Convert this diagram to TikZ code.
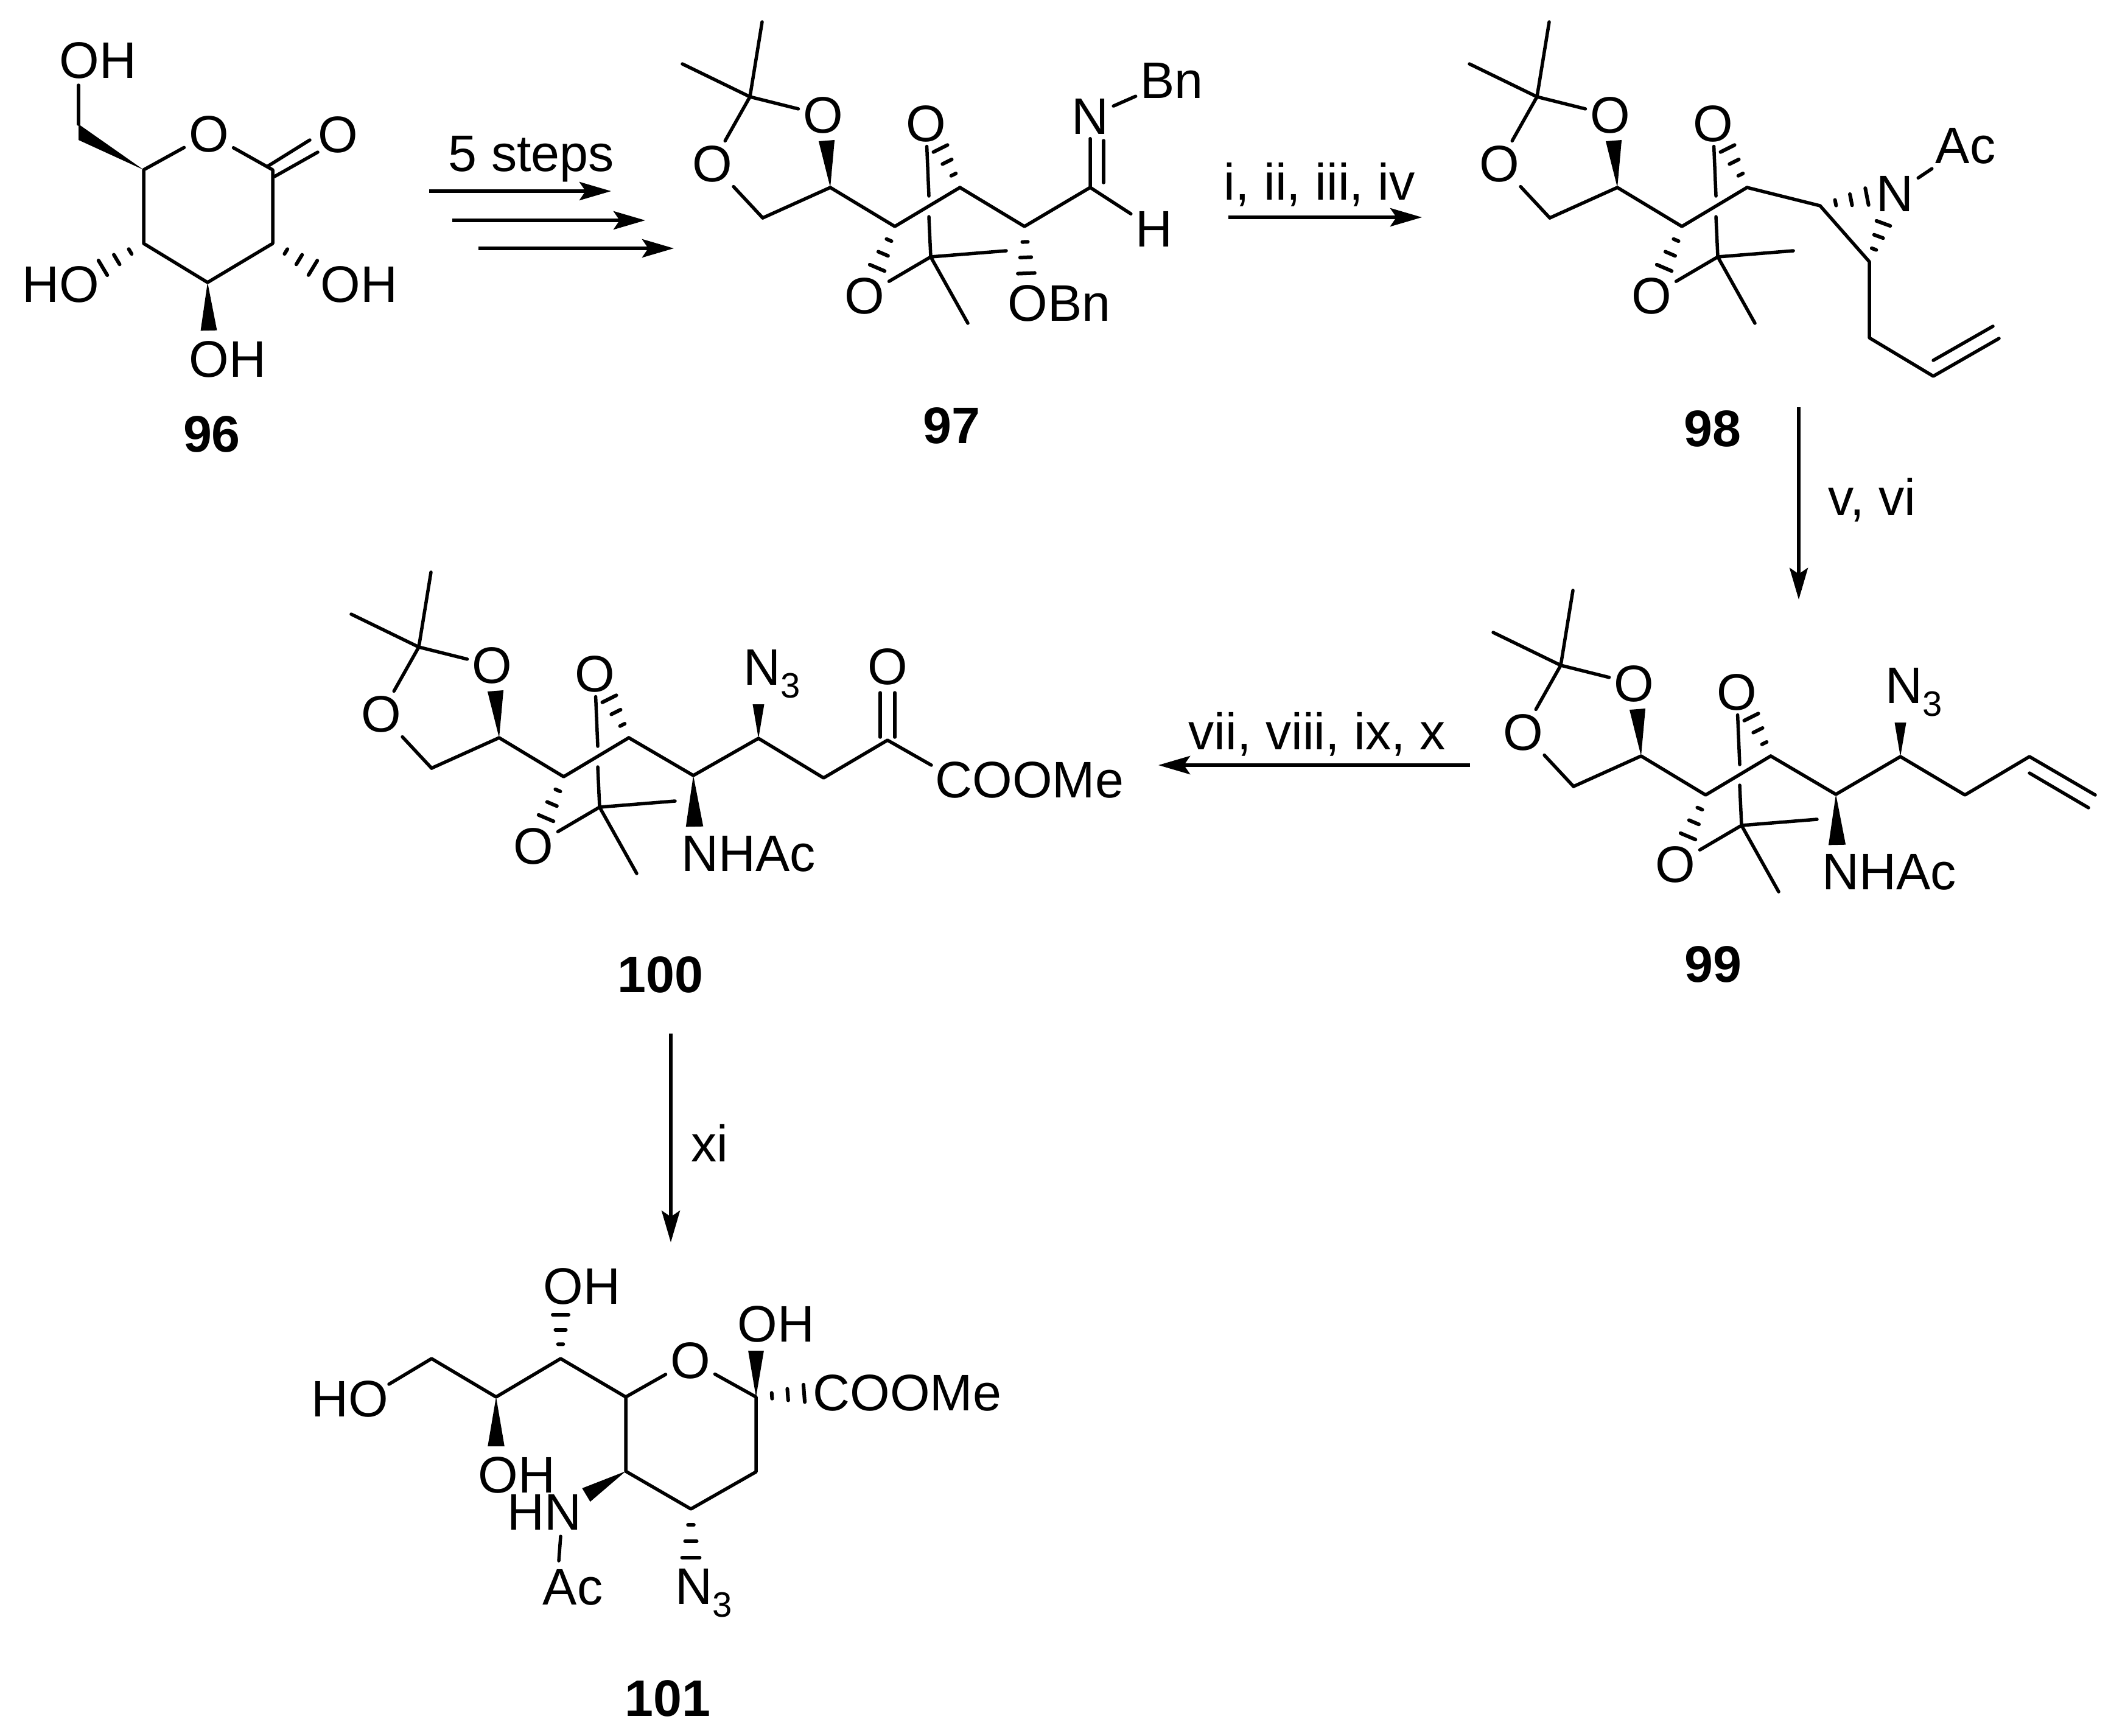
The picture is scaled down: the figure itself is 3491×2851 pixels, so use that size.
\documentclass[tikz,border=0pt]{standalone}
\usepackage{fontspec}
\setmainfont{Liberation Sans}
\usetikzlibrary{calc,arrows.meta}

\newcommand{\chemsub}[1]{\raisebox{-0.26em}{\fontsize{16.5}{17}\selectfont #1}}
\newcommand{\hashbond}[2]{\foreach \hs in {0.33,0.66,1} {\draw[hashline] ($(#1)!\hs!(#2)!0.18!90:(#1)$) -- ($(#1)!\hs!(#2)!0.18!-90:(#1)$);}}
\newcommand{\wedgebond}[2]{\fill ($(#2)!0.17!90:(#1)$) -- (#1) -- ($(#2)!0.17!-90:(#1)$) -- cycle;}

% The two ketals and the carbons between them, drawn where they stand in 97
\newcommand{\twoketals}[2]{%
  \begin{scope}[shift={(#1)}, name prefix=#2]
    % Nodes for the atoms
    \node[atom] (Oa) at (1352,189) {O};
    \node[atom] (Ob) at (1170,269) {O};
    \node[atom] (Oc) at (1521,203) {O};
    \node[atom] (Od) at (1420,486) {O};
    \coordinate (Me1) at (1252,36);
    \coordinate (Me2) at (1121,105);
    \coordinate (Cq1) at (1232,159);
    \coordinate (CH) at (1253,358);
    \coordinate (C4) at (1364,308);
    \coordinate (C5) at (1470,372);
    \coordinate (C6) at (1577,308);
    \coordinate (Cq2) at (1529,422);
    \coordinate (Me3) at (1653,412);
    \coordinate (Me4) at (1590,531);
    \coordinate (Wa) at (1358,231);
    \coordinate (Ha) at (1545,244);
    \coordinate (Hb) at (1441,440);
    \coordinate (Ga) at (1526,322);
    \coordinate (Gb) at (1526,356);
    % Bonds
    \draw[bond] (Me1) -- (Cq1) -- (Me2);
    \draw[bond] (Cq1) -- (Oa);
    \draw[bond] (Cq1) -- (Ob);
    \draw[bond] (Ob) -- (CH);
    \draw[bond] (CH) -- (C4) -- (C5) -- (C6);
    \draw[bond] (Oc) -- (Ga);
    \draw[bond] (Gb) -- (Cq2);
    \draw[bond] (Me3) -- (Cq2) -- (Me4);
    \draw[bond] (Cq2) -- (Od);
    \wedgebond{C4}{Wa}
    \hashbond{C6}{Ha}
    \hashbond{C5}{Hb}
  \end{scope}}

\begin{document}
\begin{tikzpicture}[x=0.01cm, y=-0.01cm,
  chem/.style={font=\fontsize{24}{28}\selectfont},
  atom/.style={chem, inner sep=0.07cm},
  lab/.style={chem, anchor=base west, inner sep=0pt},
  cpd/.style={font=\fontsize{24}{28}\selectfont\bfseries, inner sep=0pt},
  bond/.style={line width=0.055cm, line cap=round, line join=round},
  hashline/.style={line width=0.06cm, line cap=round},
  rxn/.style={line width=0.055cm, -{Stealth[length=0.52cm, width=0.3cm, inset=0.1cm]}}]
  \useasboundingbox (0,0) rectangle (3491,2851);

  % Compound 96
  \node[atom] (aO1) at (343,220) {O};
  \node[atom] (aO2) at (555,221) {O};
  \node[lab] (aOH1) at (97,128) {OH};
  \node[lab] (aOH2) at (36,496) {HO};
  \node[lab] (aOH3) at (526,496) {OH};
  \node[lab] (aOH4) at (310,619) {OH};
  \coordinate (aC1) at (448,279);
  \coordinate (aC2) at (448,400);
  \coordinate (aC3) at (341,464);
  \coordinate (aC4) at (236,400);
  \coordinate (aC5) at (236,279);
  \coordinate (aC6) at (129,204);
  \coordinate (aC7) at (129,230);
  \coordinate (aE1) at (129,140);
  \coordinate (aE2) at (343,543);
  \coordinate (aE3) at (514,440);
  \coordinate (aE4) at (169,440);
  \coordinate (aD1) at (440,273);
  \coordinate (aD2) at (509,230);
  \coordinate (aD3) at (451,290);
  \coordinate (aD4) at (522,250);
  \draw[bond] (aO1) -- (aC5) -- (aC4) -- (aC3) -- (aC2) -- (aC1) -- (aO1);
  \draw[bond] (aD1) -- (aD2);
  \draw[bond] (aD3) -- (aD4);
  \draw[bond] (aC6) -- (aE1);
  \fill (aC5) -- (aC6) -- (aC7) -- cycle;
  \wedgebond{aC3}{aE2}
  \hashbond{aC2}{aE3}
  \hashbond{aC4}{aE4}
  \node[cpd] (a) at (348,713) {96};

  % Compound 97
  \twoketals{0,0}{k97-}
  \node[atom] (bN) at (1791,191) {N};
  \node[atom] (bBn) at (1925,132) {Bn};
  \node[atom] (bH) at (1896,376) {H};
  \node[lab] (bOBn) at (1655,527) {OBn};
  \coordinate (bC7) at (1683,372);
  \coordinate (bC8) at (1791,308);
  \coordinate (bE1) at (1686,449);
  \coordinate (bD1) at (1813,231);
  \coordinate (bD2) at (1813,300);
  \draw[bond] (k97-C6) -- (bC7) -- (bC8) -- (bH);
  \draw[bond] (bC8) -- (bN) -- (bBn);
  \draw[bond] (bD1) -- (bD2);
  \hashbond{bC7}{bE1}
  \node[cpd] (b) at (1563,699) {97};

  % Compound 98
  \twoketals{1293,0}{k98-}
  \node[atom] (cN) at (3113,318) {N};
  \node[atom] (cAc) at (3229,240) {Ac};
  \coordinate (cC7) at (2990,338);
  \coordinate (cC8) at (3071,430);
  \coordinate (cC9) at (3071,555);
  \coordinate (cC10) at (3176,618);
  \coordinate (cC11) at (3284,556);
  \coordinate (cD1) at (3176,592);
  \coordinate (cD2) at (3274,536);
  \coordinate (cE1) at (3067,323);
  \coordinate (cE2) at (3094,367);
  \draw[bond] (k98-C6) -- (cC7) -- (cC8) -- (cC9) -- (cC10) -- (cC11);
  \draw[bond] (cD1) -- (cD2);
  \draw[bond] (cN) -- (cAc);
  \hashbond{cC7}{cE1}
  \hashbond{cC8}{cE2}
  \node[cpd] (c) at (2813,704) {98};

  % Compound 99
  \twoketals{1332,934}{k99-}
  \node[lab] (dN3) at (3097,1155) {N\chemsub{3}};
  \node[lab] (dNH) at (2993,1461) {NHAc};
  \coordinate (dC7) at (3016,1305);
  \coordinate (dC8) at (3122,1243);
  \coordinate (dC9) at (3228,1306);
  \coordinate (dC10) at (3334,1243);
  \coordinate (dC11) at (3442,1306);
  \coordinate (dD1) at (3334,1270);
  \coordinate (dD2) at (3431,1327);
  \coordinate (dE1) at (3122,1187);
  \coordinate (dE2) at (3018,1388);
  \draw[bond] (k99-C6) -- (dC7) -- (dC8) -- (dC9) -- (dC10) -- (dC11);
  \draw[bond] (dD1) -- (dD2);
  \wedgebond{dC8}{dE1}
  \wedgebond{dC7}{dE2}
  \node[cpd] (d) at (2814,1584) {99};

  % Compound 100
  \twoketals{-544,904}{k100-}
  \node[atom] (eO) at (1458,1095) {O};
  \node[lab] (eN3) at (1221,1125) {N\chemsub{3}};
  \node[lab] (eNH) at (1119,1431) {NHAc};
  \node[lab] (eCO) at (1536,1310) {COOMe};
  \coordinate (eC7) at (1139,1274);
  \coordinate (eC8) at (1246,1213);
  \coordinate (eC9) at (1353,1278);
  \coordinate (eC10) at (1458,1216);
  \coordinate (eF1) at (1530,1257);
  \coordinate (eD1) at (1446,1138);
  \coordinate (eD2) at (1446,1211);
  \coordinate (eD3) at (1470,1138);
  \coordinate (eD4) at (1470,1211);
  \coordinate (eE1) at (1246,1157);
  \coordinate (eE2) at (1141,1358);
  \draw[bond] (k100-C6) -- (eC7) -- (eC8) -- (eC9) -- (eC10) -- (eF1);
  \draw[bond] (eD1) -- (eD2);
  \draw[bond] (eD3) -- (eD4);
  \wedgebond{eC8}{eE1}
  \wedgebond{eC7}{eE2}
  \node[cpd] (e) at (1085,1601) {100};

  % Compound 101
  \node[atom] (fO) at (1134,2235) {O};
  \node[lab] (fHO) at (511,2327) {HO};
  \node[lab] (fOH1) at (892,2142) {OH};
  \node[lab] (fOH2) at (785,2452) {OH};
  \node[lab] (fOH3) at (1211,2204) {OH};
  \node[lab] (fCO) at (1335,2317) {COOMe};
  \node[lab] (fHN) at (833,2513) {HN};
  \node[lab] (fAc) at (891,2636) {Ac};
  \node[lab] (fN3) at (1109,2635) {N\chemsub{3}};
  \coordinate (fC1) at (709,2232);
  \coordinate (fC2) at (815,2295);
  \coordinate (fC3) at (921,2232);
  \coordinate (fC4) at (1028,2295);
  \coordinate (fC5) at (1242,2295);
  \coordinate (fC6) at (1242,2418);
  \coordinate (fC7) at (1135,2479);
  \coordinate (fC8) at (1028,2417);
  \coordinate (fF1) at (639,2274);
  \coordinate (fF2) at (921,2524);
  \coordinate (fF3) at (918,2564);
  \coordinate (fE1) at (921,2160);
  \coordinate (fE2) at (815,2376);
  \coordinate (fE3) at (1242,2219);
  \coordinate (fE4) at (1321,2289);
  \coordinate (fE5) at (963,2456);
  \coordinate (fE6) at (1135,2559);
  \draw[bond] (fF1) -- (fC1) -- (fC2) -- (fC3) -- (fC4) -- (fO) -- (fC5) -- (fC6) -- (fC7) -- (fC8) -- (fC4);
  \draw[bond] (fF2) -- (fF3);
  \wedgebond{fC2}{fE2}
  \wedgebond{fC5}{fE3}
  \wedgebond{fC8}{fE5}
  \hashbond{fC3}{fE1}
  \hashbond{fC5}{fE4}
  \hashbond{fC7}{fE6}
  \node[cpd] (f) at (1097,2790) {101};

  % Arrows for the steps
  \coordinate (r1a) at (705,314);
  \coordinate (r1b) at (1004,314);
  \coordinate (r2a) at (743,362);
  \coordinate (r2b) at (1060,362);
  \coordinate (r3a) at (786,408);
  \coordinate (r3b) at (1107,408);
  \coordinate (r4a) at (2018,357);
  \coordinate (r4b) at (2336,357);
  \coordinate (r5a) at (2955,669);
  \coordinate (r5b) at (2955,985);
  \coordinate (r6a) at (2415,1257);
  \coordinate (r6b) at (1903,1257);
  \coordinate (r7a) at (1102,1698);
  \coordinate (r7b) at (1102,2041);
  \draw[rxn] (r1a) -- (r1b);
  \draw[rxn] (r2a) -- (r2b);
  \draw[rxn] (r3a) -- (r3b);
  \draw[rxn] (r4a) -- (r4b);
  \draw[rxn] (r5a) -- (r5b);
  \draw[rxn] (r6a) -- (r6b);
  \draw[rxn] (r7a) -- (r7b);

  % Labels on the arrows
  \node[lab] (t1) at (736,281) {5 steps};
  \node[lab] (t2) at (2010,328) {i, ii, iii, iv};
  \node[lab] (t3) at (3003,846) {v, vi};
  \node[lab] (t4) at (1952,1231) {vii, viii, ix, x};
  \node[lab] (t5) at (1135,1908) {xi};
\end{tikzpicture}
\end{document}
